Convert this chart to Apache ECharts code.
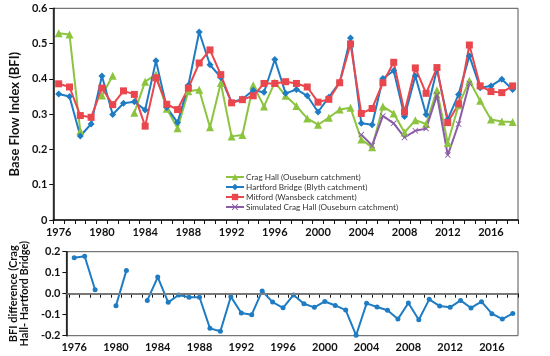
<!DOCTYPE html>
<html><head><meta charset="utf-8">
<script src="https://cdn.jsdelivr.net/npm/echarts@6/dist/echarts.min.js"></script>
<style>html,body{margin:0;padding:0;background:#fff}#c{width:550px;height:356px}</style>
</head><body><div id="c"></div>
<script>
const years = [];
for (let y = 1976; y <= 2018; y++) years.push(y);
const xTickLabels = [1976,1980,1984,1988,1992,1996,2000,2004,2008,2012,2016];

const cragHall = [0.529,0.526,0.252,null,0.353,0.409,null,0.304,0.392,0.412,0.315,0.260,0.365,0.369,0.263,0.388,0.237,0.241,0.382,0.322,0.390,0.352,0.323,0.288,0.270,0.290,0.313,0.318,0.228,0.206,0.322,0.302,0.248,0.283,0.272,0.368,0.218,0.325,0.395,0.338,0.285,0.279,0.278];
const hartford = [0.357,0.350,0.238,0.272,0.408,0.299,0.331,0.335,0.312,0.451,0.319,0.276,0.382,0.533,0.440,0.404,0.333,0.343,0.368,0.362,0.455,0.359,0.370,0.352,0.306,0.348,0.390,0.516,0.274,0.270,0.401,0.423,0.293,0.408,0.299,0.427,0.285,0.356,0.465,0.375,0.380,0.399,0.370];
const mitford = [0.386,0.377,0.296,0.291,0.374,0.327,0.366,0.356,0.266,0.403,0.328,0.313,0.374,0.445,0.482,0.412,0.332,0.341,0.352,0.387,0.387,0.392,0.387,0.377,0.334,0.342,0.389,0.499,0.302,0.316,0.389,0.447,0.306,0.431,0.359,0.432,0.276,0.329,0.496,0.380,0.364,0.361,0.380];
const simYears = [2004,2005,2006,2007,2008,2009,2010,2011,2012,2013,2014];
const simulated = [0.242,0.211,0.295,0.274,0.234,0.253,0.259,0.354,0.184,0.272,0.387];
const bfiDiff = [0.171,0.178,0.019,null,-0.057,0.111,null,-0.032,0.079,-0.041,-0.006,-0.017,-0.017,-0.165,-0.179,-0.014,-0.092,-0.100,0.013,-0.040,-0.067,-0.006,-0.048,-0.065,-0.037,-0.056,-0.078,-0.198,-0.046,-0.063,-0.079,-0.121,-0.044,-0.124,-0.027,-0.059,-0.065,-0.032,-0.068,-0.038,-0.095,-0.121,-0.094];

const seriesNames = ['Crag Hall (Ouseburn catchment)','Hartford Bridge (Blyth catchment)','Mitford (Wansbeck catchment)','Simulated Crag Hall (Ouseburn catchment)'];
const colors = ['#8cc43f','#1f7cc3','#e9474d','#8b5ca8'];

const pairs = (xs, vs) => xs.map((x, i) => [x, vs[i] == null ? '-' : vs[i]]);
const boundaries = [];
for (let y = 1975.5; y <= 2018.6; y += 1) boundaries.push(y);

const FONT = 'Lato';
const xAxisCommon = (gi, min) => ({
  type: 'value', gridIndex: gi, min: min, max: 2018.5,
  splitLine: {show: false},
  axisLine: {show: true, lineStyle: {color: '#111', width: 1.5}},
  axisTick: {show: true, length: 4, customValues: boundaries, lineStyle: {color: '#111'}},
  axisLabel: {customValues: xTickLabels, formatter: v => String(Math.round(v)),
    fontFamily: FONT, fontWeight: 'bold', fontSize: 11, color: '#111', margin: gi === 0 ? 7 : 6}
});
const crossSym = 'path://M0,1L1,0L5,4L9,0L10,1L6,5L10,9L9,10L5,6L1,10L0,9L4,5Z';

const chart = echarts.init(document.getElementById('c'), null, {renderer: 'canvas'});
chart.setOption({
  animation: false,
  textStyle: {fontFamily: FONT},
  grid: [
    {left: 51.7, right: 32, top: 8.3, height: 211.7, show: true, borderColor: '#555', borderWidth: 1},
    {left: 48, right: 32, top: 251.7, height: 84, show: true, borderColor: '#555', borderWidth: 1}
  ],
  xAxis: [xAxisCommon(0, 1975.5), xAxisCommon(1, 1975.25)],
  yAxis: [
    {type: 'value', gridIndex: 0, min: 0, max: 0.6, interval: 0.1,
     name: 'Base Flow Index (BFI)', nameLocation: 'middle', nameGap: 31,
     nameTextStyle: {fontFamily: FONT, fontWeight: 'bold', fontSize: 13, color: '#111'},
     splitLine: {show: false},
     axisLine: {show: true, lineStyle: {color: '#111', width: 1.5}},
     axisTick: {show: true, length: 4, lineStyle: {color: '#111'}},
     axisLabel: {fontFamily: FONT, fontWeight: 'bold', fontSize: 11, color: '#111', margin: 6,
       formatter: v => { const r = Math.round(v * 10) / 10; return r === 0 ? '0' : r.toFixed(1); }}},
    {type: 'value', gridIndex: 1, min: -0.2, max: 0.2, interval: 0.1,
     name: 'BFI difference (Crag\nHall- Hartford Bridge)', nameLocation: 'middle', nameGap: 21,
     nameTextStyle: {fontFamily: FONT, fontWeight: 'bold', fontSize: 11, color: '#111', lineHeight: 11},
     splitLine: {show: false},
     axisLine: {show: true, lineStyle: {color: '#111', width: 1.5}},
     axisTick: {show: true, length: 4, lineStyle: {color: '#111'}},
     axisLabel: {fontFamily: FONT, fontWeight: 'bold', fontSize: 11, color: '#111', margin: 6,
       formatter: v => (Math.round(v * 10) / 10).toFixed(1)}}
  ],
  legend: {
    orient: 'vertical', left: 220, top: 168, itemWidth: 18, itemHeight: 8, itemGap: 2,
    textStyle: {fontFamily: FONT, fontSize: 8.2, color: '#333', padding: [0, 0, 0, -3]},
    data: seriesNames
  },
  series: [
    {name: seriesNames[0], type: 'line', xAxisIndex: 0, yAxisIndex: 0, data: pairs(years, cragHall),
     color: colors[0], lineStyle: {width: 2}, symbol: 'triangle', symbolSize: 8, showSymbol: true, connectNulls: false},
    {name: seriesNames[1], type: 'line', xAxisIndex: 0, yAxisIndex: 0, data: pairs(years, hartford),
     color: colors[1], lineStyle: {width: 2}, symbol: 'diamond', symbolSize: 7},
    {name: seriesNames[2], type: 'line', xAxisIndex: 0, yAxisIndex: 0, data: pairs(years, mitford),
     color: colors[2], lineStyle: {width: 2}, symbol: 'rect', symbolSize: 7},
    {name: seriesNames[3], type: 'line', xAxisIndex: 0, yAxisIndex: 0, data: pairs(simYears, simulated),
     color: colors[3], lineStyle: {width: 2}, symbol: crossSym, symbolSize: 6},
    {name: 'BFI difference', type: 'line', xAxisIndex: 1, yAxisIndex: 1, data: pairs(years, bfiDiff),
     color: colors[1], lineStyle: {width: 2}, symbol: 'circle', symbolSize: 5, connectNulls: false,
     markLine: {silent: true, symbol: 'none', label: {show: false}, lineStyle: {color: '#888', width: 1.5, type: 'solid'},
       data: [{yAxis: 0}]}}
  ]
});
</script></body></html>
